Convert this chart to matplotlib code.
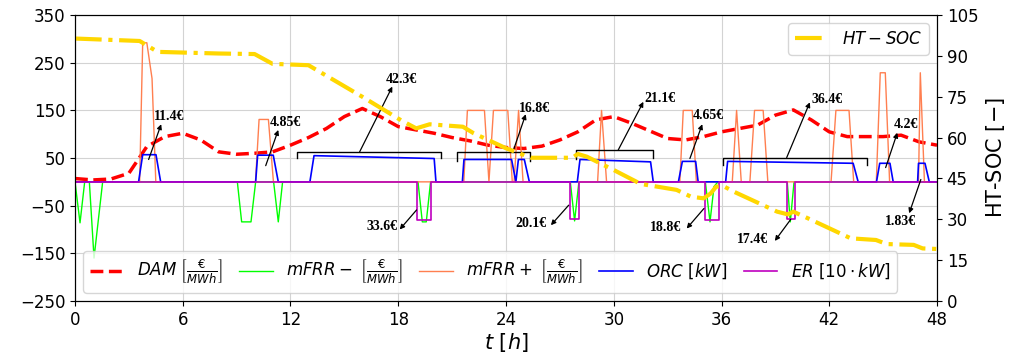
import numpy as np
import matplotlib
matplotlib.use("Agg")
import matplotlib.pyplot as plt

# ---- data ----
hours = list(range(49))
dam = [7, 4, 6, 18, 74, 95, 102, 88, 63, 58, 60, 63, 77, 93, 112, 137, 154, 137, 116, 109,
       102, 93, 86, 77, 72, 70, 75, 88, 105, 130, 137, 123, 107, 91, 88, 95, 105, 112, 119,
       140, 151, 130, 105, 95, 95, 95, 98, 84, 77]

mfrr_neg_t = [0, 0.28, 0.54, 0.8, 1.06, 1.54, 9.04, 9.28, 9.8, 10.06, 11.06, 11.32, 11.56,
              19.1, 19.34, 19.56, 19.8, 27.58, 27.82, 28.06, 35.1, 35.36, 35.58, 35.8,
              39.66, 39.83, 40.04, 48]
mfrr_neg = [0, -86, 0, 0, -160, 0, 0, -84, -84, 0, 0, -84, 0,
            0, -84, -84, 0, 0, -82, 0, 0, -84, -10, 0,
            0, -84, 0, 0]

mfrr_pos_t = [0, 3.6, 3.77, 4.0, 4.29, 4.5, 10.05, 10.25, 10.77, 11.05,
              21.65, 21.85, 22.8, 23.05, 23.3, 24.1, 24.35, 24.45, 24.7, 24.95,
              29.1, 29.32, 29.6, 33.68, 33.87, 34.37, 34.6, 36.6, 36.84, 37.1,
              37.58, 37.84, 38.32, 38.58, 42.1, 42.37, 43.1, 43.36,
              44.62, 44.84, 45.12, 45.36, 46.97, 47.07, 47.3, 48]
mfrr_pos = [0, 0, 292, 292, 217, 0, 0, 131, 131, 0,
            0, 150, 150, 0, 150, 150, 0, 0, 150, 0,
            0, 150, 0, 0, 150, 150, 0, 0, 150, 0,
            0, 150, 150, 0, 0, 150, 150, 0,
            0, 229, 229, 0, 0, 229, 0, 0]

orc_t = [0, 3.54, 3.77, 4.51, 4.77, 10.06, 10.17, 11.04, 11.32, 13.08, 13.31, 20.0, 20.1,
         21.57, 21.66, 24.31, 24.55, 24.69, 25.02, 25.3, 27.97, 28.12, 32.05, 32.2,
         33.6, 33.82, 34.56, 34.7, 36.23, 36.34, 43.33, 43.61, 44.63, 44.81, 45.38, 45.56,
         46.92, 46.97, 47.33, 47.57, 48]
orc = [0, 0, 57, 57, 0, 0, 56, 56, 0, 0, 55, 49, 0,
       0, 47, 47, 0, 47, 47, 0, 0, 47, 42, 0,
       0, 43, 43, 0, 0, 43, 39, 0, 0, 39, 39, 0,
       0, 39, 39, 0, 0]

er_t = [0, 19.06, 19.06, 19.8, 19.8, 27.58, 27.58, 28.06, 28.06, 35.06, 35.06, 35.87, 35.87,
        39.62, 39.62, 40.1, 40.1, 48]
er = [0, 0, -80, -80, 0, 0, -79, -79, 0, 0, -80, -80, 0, 0, -79, -79, 0, 0]

soc_t = [0, 3.6, 4.6, 8, 10, 11, 13, 16, 18.2, 19, 19.75, 21.6, 22.2, 24, 25.4, 27.7, 28,
         28.5, 30, 31.5, 33.5, 34.3, 35, 35.4, 35.7, 36.1, 36.7, 39.1, 39.7, 40, 40.8,
         43.2, 44.6, 45.2, 46.7, 47.2, 48]
soc = [96.4, 95.5, 91.5, 90.9, 90.7, 87.1, 86.6, 75.0, 66.2, 63.4, 64.9, 64.0, 61.6, 56.1,
       52.6, 52.6, 54.0, 53.0, 48.1, 43.0, 40.8, 38.3, 37.7, 39.5, 42.0, 42.2, 40.1, 32.8,
       31.8, 32.8, 30.4, 23.0, 22.4, 20.9, 20.6, 19.3, 19.1]

# brackets: start, end, top, left foot, right foot
brackets = [(12.38, 20.38, 63, 51, 51),
            (21.25, 25.35, 63, 44, 44),
            (27.9, 32.2, 66, 47, 51),
            (36.06, 44.08, 50, 35, 35)]

# annotations: label, tail, head, text position, alignment
notes = [("11.4€", (4.1, 47), (4.8, 121), (4.38, 137), "left"),
         ("4.85€", (10.62, 34), (11.32, 109), (10.86, 124), "left"),
         ("42.3€", (15.85, 63), (17.67, 200), (17.3, 215), "left"),
         ("16.8€", (24.4, 65), (25.1, 142), (24.7, 154), "left"),
         ("21.1€", (30.25, 67), (31.65, 168), (31.7, 175), "left"),
         ("4.65€", (34.24, 49), (34.93, 121), (34.4, 139), "left"),
         ("36.4€", (39.63, 51), (40.92, 167), (41.0, 173), "left"),
         ("4.2€", (45.14, 30), (45.79, 103), (45.6, 120), "left"),
         ("1.83€", (47.1, 5), (46.45, -66), (45.1, -84), "left"),
         ("33.6€", (19.02, -59), (18.08, -100), (17.95, -94), "right"),
         ("20.1€", (27.49, -49), (26.5, -91), (26.23, -87), "right"),
         ("18.8€", (35.02, -56), (34.06, -98), (33.78, -96), "right"),
         ("17.4€", (39.85, -79), (38.97, -124), (38.6, -122), "right")]

fig, ax = plt.subplots(figsize=(10.12, 3.6), dpi=100)
fig.subplots_adjust(left=0.0741, right=0.9259, top=0.958, bottom=0.164)

ax.plot(hours, dam, '--', color='red', lw=2.5, label=r'$DAM\ \left[\frac{€}{MWh}\right]$')
ax.plot(mfrr_neg_t, mfrr_neg, color='lime', lw=1, label=r'$mFRR-\ \left[\frac{€}{MWh}\right]$')
ax.plot(mfrr_pos_t, mfrr_pos, color='coral', lw=1, label=r'$mFRR+\ \left[\frac{€}{MWh}\right]$')
ax.plot(orc_t, orc, color='blue', lw=1.2, label=r'$ORC\ [kW]$')
ax.plot(er_t, er, color='m', lw=1.2, label=r'$ER\ [10\cdot kW]$')

for t0, t1, top, bl, br in brackets:
    ax.plot([t0, t0, t1, t1], [bl, top, top, br], color='black', lw=1)

for label, tail, head, pos, ha in notes:
    ax.annotate('', xy=head, xytext=tail,
                arrowprops=dict(arrowstyle='-|>', color='black', lw=0.9,
                                mutation_scale=7, shrinkA=0, shrinkB=0))
    ax.text(pos[0], pos[1], label, ha=ha, va='center', fontsize=10,
            family='Liberation Serif', weight='bold')

ax.set_xlim(0, 48)
ax.set_ylim(-250, 350)
ax.set_xticks(range(0, 49, 6))
ax.set_yticks(range(-250, 351, 100))
ax.tick_params(labelsize=12)
ax.grid(True, color='#d3d3d3', lw=0.8)
ax.set_xlabel(r'$t\ [h]$', fontsize=15, labelpad=2)
ax.legend(loc='lower left', ncol=5, fontsize=12, columnspacing=1.0)

ax2 = ax.twinx()
ax2.plot(soc_t, soc, '-.', color='gold', lw=3, label=r'$HT-SOC$')
ax2.set_ylim(0, 105)
ax2.set_yticks(range(0, 106, 15))
ax2.tick_params(labelsize=12)
ax2.set_ylabel(r'HT-SOC $[-]$', fontsize=15)
ax2.legend(loc='upper right', fontsize=12)

fig.savefig('out.png', dpi=100)
